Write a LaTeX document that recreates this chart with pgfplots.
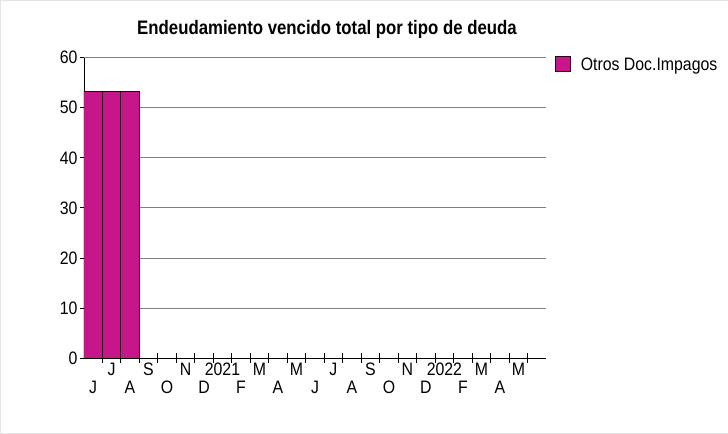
\documentclass[border=0pt]{standalone}
\usepackage{pgfplots}
\pgfplotsset{compat=1.18}
\usepackage{fontspec}
\setmainfont{Liberation Sans}[FakeStretch=0.88]
\newfontfamily\titlefont{Liberation Sans}[FakeStretch=0.86]
\definecolor{barc}{RGB}{199,22,137}
\begin{document}
\begin{tikzpicture}[x=1pt,y=1pt]
\draw[gray!20] (0.5,0.5) rectangle (727.5,433.5);
\begin{axis}[
  at={(84pt,76pt)}, anchor=south west,
  scale only axis, width=462pt, height=300pt,
  xmin=-0.5, xmax=24.5, ymin=0, ymax=60,
  axis x line=bottom, axis y line=left,
  axis line style={-, black},
  ytick={0,10,...,60},
  ymajorgrids, major grid style={gray, line width=0.8pt},
  xtick={0,...,23},
  xticklabels={{\strut\\\strut J},{\strut J},{\strut\\\strut A},{\strut S},{\strut\\\strut O},{\strut N},{\strut\\\strut D},{\strut 2021},{\strut\\\strut F},{\strut M},{\strut\\\strut A},{\strut M},{\strut\\\strut J},{\strut J},{\strut\\\strut A},{\strut S},{\strut\\\strut O},{\strut N},{\strut\\\strut D},{\strut 2022},{\strut\\\strut F},{\strut M},{\strut\\\strut A},{\strut M}},
  minor xtick={0.5,1.5,...,23.5},
  every major x tick/.append style={draw=none},
  tick align=outside, major tick length=4pt, minor tick length=10pt,
  every minor x tick/.append style={yshift=5pt, black},
  every tick/.append style={black, line width=0.8pt},
  xticklabel style={align=center, font=\fontsize{18}{18}\selectfont, anchor=north, yshift=0pt, inner sep=1pt},
  yticklabel style={font=\fontsize{18}{18}\selectfont, inner sep=2pt},
  /pgf/number format/assume math mode=true,
  title={\titlefont\bfseries\fontsize{19.5}{20}\selectfont Endeudamiento vencido total por tipo de deuda},
  title style={at={(0.526,1.073)}, anchor=center},
  legend style={at={(1.0195,1.007)}, anchor=north west, draw=none, fill=none,
    font=\fontsize{18}{18}\selectfont, inner sep=0pt,
    nodes={inner sep=2pt}},
  legend image code/.code={\draw[#1] (0pt,-7pt) rectangle (15pt,8pt); \path[draw=none,fill=none] (0pt,0pt) -- (23pt,0pt);},
]
\addplot[ybar, bar width=1, bar shift=0pt, fill=barc, draw=black!80!barc, line width=0.8pt]
  coordinates {(0,53.2) (1,53.2) (2,53.2)};
\addlegendentry{Otros Doc.Impagos}
\end{axis}
\end{tikzpicture}
\end{document}
